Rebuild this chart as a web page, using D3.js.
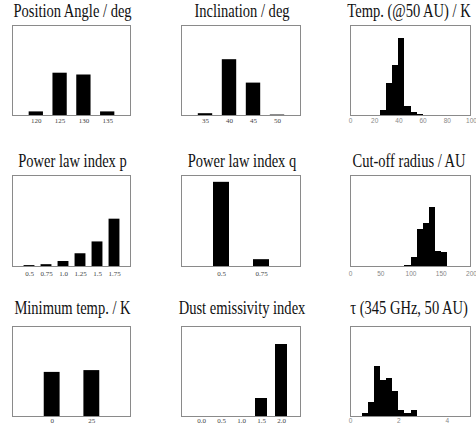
<!DOCTYPE html>
<html>
<head>
<meta charset="utf-8">
<script src="https://cdn.jsdelivr.net/npm/d3@7"></script>
<style>
  html, body { margin: 0; padding: 0; background: #fff; }
  svg { display: block; }
</style>
</head>
<body>
<svg id="chart" width="476" height="427"></svg>
<script>
// ---- Data: posterior probability of each model parameter ----
const titles = [
  "Position Angle / deg", "Inclination / deg", "Temp. (@50 AU) / K",
  "Power law index p", "Power law index q", "Cut-off radius / AU",
  "Minimum temp. / K", "Dust emissivity index", "\u03C4 (345 GHz, 50 AU)"
];

// discrete grids
const paValues   = [120, 125, 130, 135];
const paProb     = [0.04, 0.47, 0.45, 0.04];
const incValues  = [35, 40, 45, 50];
const incProb    = [0.02, 0.62, 0.36, 0.005];
const pValues    = [0.5, 0.75, 1.0, 1.25, 1.5, 1.75];
const pLabels    = ["0.5", "0.75", "1.0", "1.25", "1.5", "1.75"];
const pProb      = [0.01, 0.02, 0.055, 0.14, 0.27, 0.52];
const qValues    = [0.5, 0.75];
const qLabels    = ["0.5", "0.75"];
const qProb      = [0.925, 0.075];
const tminValues = [0, 25];
const tminProb   = [0.49, 0.51];
const betaValues = [0.0, 0.5, 1.0, 1.5, 2.0];
const betaLabels = ["0.0", "0.5", "1.0", "1.5", "2.0"];
const betaProb   = [0, 0, 0, 0.2, 0.8];

// continuous histograms (left bin edges)
const tempBins  = [25, 30, 35, 40, 45, 50, 55];
const tempProb  = [0.028, 0.178, 0.278, 0.428, 0.05, 0.018, 0.004];
const tempTicks = [0, 20, 40, 60, 80, 100];
const rcBins    = [90, 100, 110, 120, 130, 140, 150];
const rcProb    = [0.004, 0.05, 0.205, 0.239, 0.322, 0.083, 0.078];
const rcTicks   = [0, 50, 100, 150, 200];
const tauBins   = [0.5, 0.75, 1.0, 1.25, 1.5, 1.75, 2.0, 2.25, 2.5];
const tauProb   = [0.015, 0.078, 0.28, 0.198, 0.21, 0.137, 0.033, 0.018, 0.031];
const tauTicks  = [0, 2, 4];

// ---- Panel definitions ----
const panels = [
  { kind: "bar",  xs: paValues,   ys: paProb,   labels: paValues.map(String),   domain: [115, 140],  barW: 3,    yMax: 1 },
  { kind: "bar",  xs: incValues,  ys: incProb,  labels: incValues.map(String),  domain: [30, 55],    barW: 3,    yMax: 1 },
  { kind: "hist", xs: tempBins,   ys: tempProb, ticks: tempTicks,               domain: [0, 100],    binW: 5,    yMax: 0.5 },
  { kind: "bar",  xs: pValues,    ys: pProb,    labels: pLabels,                domain: [0.25, 2.0], barW: 0.16, yMax: 1 },
  { kind: "bar",  xs: qValues,    ys: qProb,    labels: qLabels,                domain: [0.25, 1.0], barW: 0.1,  yMax: 1 },
  { kind: "hist", xs: rcBins,     ys: rcProb,   ticks: rcTicks,                 domain: [0, 200],    binW: 10,   yMax: 0.5 },
  { kind: "bar",  xs: tminValues, ys: tminProb, labels: tminValues.map(String), domain: [-25, 50],   barW: 10,   yMax: 1 },
  { kind: "bar",  xs: betaValues, ys: betaProb, labels: betaLabels,             domain: [-0.5, 2.5], barW: 0.3,  yMax: 1 },
  { kind: "hist", xs: tauBins,    ys: tauProb,  ticks: tauTicks,                domain: [0, 5],      binW: 0.25, yMax: 0.5 }
];

// ---- Layout of the 3x3 grid ----
const colX = [[12, 131], [181, 301], [350, 471]];
const rowY = [[25, 115], [175, 266], [326, 416]];
const titleShift = [1, 1, -1.5];
const titleGap = [8, 8.5, 12];
const labelGap = [9, 11.5, 8];
const condense = 0.765;

const svg = d3.select("#chart");
svg.append("rect").attr("width", 476).attr("height", 427).attr("fill", "#fff");

panels.forEach((p, i) => {
  const col = i % 3, row = Math.floor(i / 3);
  const [x0, x1] = colX[col];
  const [y0, y1] = rowY[row];

  const x = d3.scaleLinear().domain(p.domain).range([x0, x1]);
  const y = d3.scaleLinear().domain([0, p.yMax]).range([y1, y0]);

  const g = svg.append("g");

  // title, set in a horizontally condensed serif
  g.append("text")
    .attr("transform", `translate(${(x0 + x1) / 2 + titleShift[col]},${y0 - titleGap[row]}) scale(${condense},1)`)
    .attr("text-anchor", "middle")
    .attr("font-family", "'Liberation Serif', 'Times New Roman', serif")
    .attr("font-size", 19)
    .attr("fill", "#111")
    .text(titles[i]);

  if (p.kind === "bar") {
    // one bar per grid value
    g.selectAll("rect.bar")
      .data(p.xs.map((v, k) => ({ v, pr: p.ys[k] })))
      .join("rect")
      .attr("class", "bar")
      .attr("x", d => x(d.v - p.barW / 2))
      .attr("width", d => x(d.v + p.barW / 2) - x(d.v - p.barW / 2))
      .attr("y", d => y(d.pr))
      .attr("height", d => y(0) - y(d.pr))
      .attr("fill", "#000");

    const axis = d3.axisBottom(x)
      .tickValues(p.xs)
      .tickFormat((d, k) => p.labels[k])
      .tickSize(0)
      .tickPadding(labelGap[row] - 6);
    const ax = g.append("g").attr("transform", `translate(0,${y1})`).call(axis);
    ax.select(".domain").remove();
    ax.selectAll("text")
      .attr("font-family", "'Liberation Serif', 'Times New Roman', serif")
      .attr("font-size", 7)
      .attr("fill", "#444");
  } else {
    // adjacent histogram bins
    g.selectAll("rect.bin")
      .data(p.xs.map((v, k) => ({ v, pr: p.ys[k] })))
      .join("rect")
      .attr("class", "bin")
      .attr("x", d => x(d.v))
      .attr("width", d => x(d.v + p.binW) - x(d.v))
      .attr("y", d => y(d.pr))
      .attr("height", d => y(0) - y(d.pr))
      .attr("fill", "#000")
      .attr("shape-rendering", "crispEdges");

    const axis = d3.axisBottom(x)
      .tickValues(p.ticks)
      .tickFormat(d3.format("d"))
      .tickSize(0)
      .tickPadding(labelGap[row] - 6);
    const ax = g.append("g").attr("transform", `translate(0,${y1})`).call(axis);
    ax.select(".domain").remove();
    ax.selectAll("text")
      .attr("font-family", "'Liberation Sans', Arial, sans-serif")
      .attr("font-size", 6.5)
      .attr("fill", "#888");
  }

  // frame
  g.append("rect")
    .attr("x", x0 + 0.5).attr("y", y0 + 0.5)
    .attr("width", x1 - x0 - 1).attr("height", y1 - y0)
    .attr("fill", "none")
    .attr("stroke", "#8a8a8a")
    .attr("stroke-width", 1)
    .attr("shape-rendering", "crispEdges");
});
</script>
</body>
</html>
